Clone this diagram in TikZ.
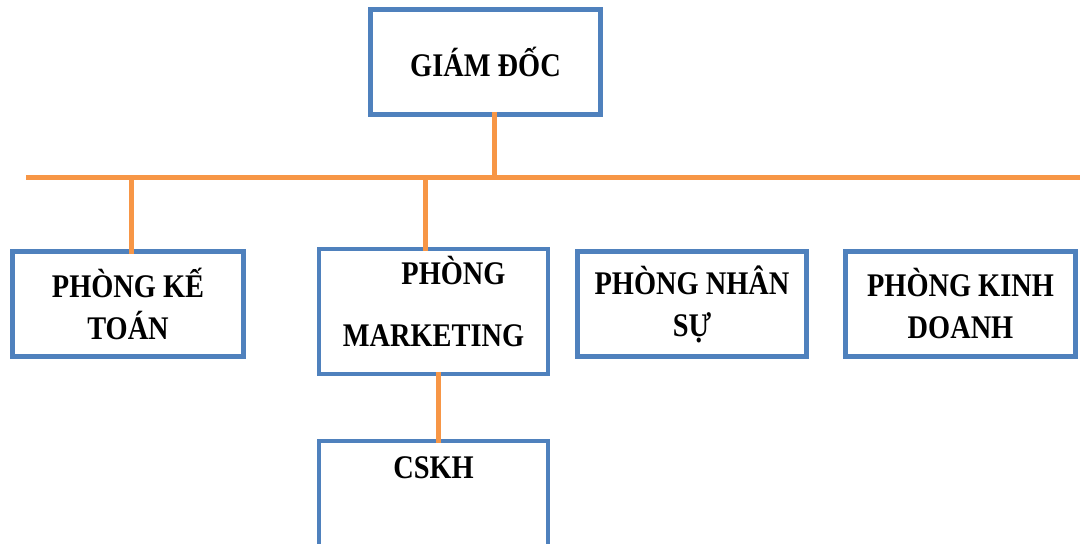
\documentclass[tikz,border=0pt]{standalone}
\usepackage{fontspec}
\setmainfont{Liberation Serif}[FakeStretch=0.86]
\definecolor{boxblue}{HTML}{4F81BD}
\definecolor{lineorange}{HTML}{F79646}
\begin{document}
\begin{tikzpicture}[x=1pt,y=-1pt,
  txt/.style={font=\fontsize{33}{42}\selectfont\bfseries, text=black},
  orgbox/.style={draw=boxblue, line width=5pt, fill=white, inner sep=0pt, outer sep=0pt,
    align=center, txt},
  conn/.style={draw=lineorange, line width=5pt}]
\clip (0,0) rectangle (1080,544);
\fill[white] (0,0) rectangle (1080,544);
% buses
\coordinate (busL) at (26,177);
\coordinate (busR) at (1080,177);
% boxes
\node[orgbox, minimum width=230pt, minimum height=105pt] (gd) at (485.5,62) {GIÁM ĐỐC};
\node[orgbox, minimum width=231pt, minimum height=105pt] (kt) at (128,304) {PHÒNG KẾ\\TOÁN};
\node[orgbox, line width=4pt, minimum width=229pt, minimum height=125pt, text depth=21pt] (mk) at (433.5,311.5) {\hspace*{40pt}PHÒNG\\[20pt]MARKETING};
\node[orgbox, minimum width=229pt, minimum height=105pt] (ns) at (692,304) {PHÒNG NHÂN\\SỰ};
\node[orgbox, minimum width=230pt, minimum height=105pt] (kd) at (960.5,304) {PHÒNG KINH\\DOANH};
\node[orgbox, line width=4pt, minimum width=229pt, minimum height=150pt,
  label={[txt, inner sep=0pt, anchor=north, yshift=-15pt]north:CSKH}] (cskh) at (433.5,516) {};
% connectors
\draw[conn] (busL) -- (busR);
\draw[conn] ([xshift=8.5pt,yshift=2.5pt]gd.south) -- ([xshift=8.5pt]gd.south |- busL);
\draw[conn] ([xshift=3pt]kt.north |- busL) -- ([xshift=3pt,yshift=-2.5pt]kt.north);
\draw[conn] ([xshift=-8.5pt]mk.north |- busL) -- ([xshift=-8.5pt,yshift=-2pt]mk.north);
\draw[conn] ([xshift=4.5pt,yshift=2pt]mk.south) -- ([xshift=4.5pt,yshift=-2pt]cskh.north);
\end{tikzpicture}
\end{document}
